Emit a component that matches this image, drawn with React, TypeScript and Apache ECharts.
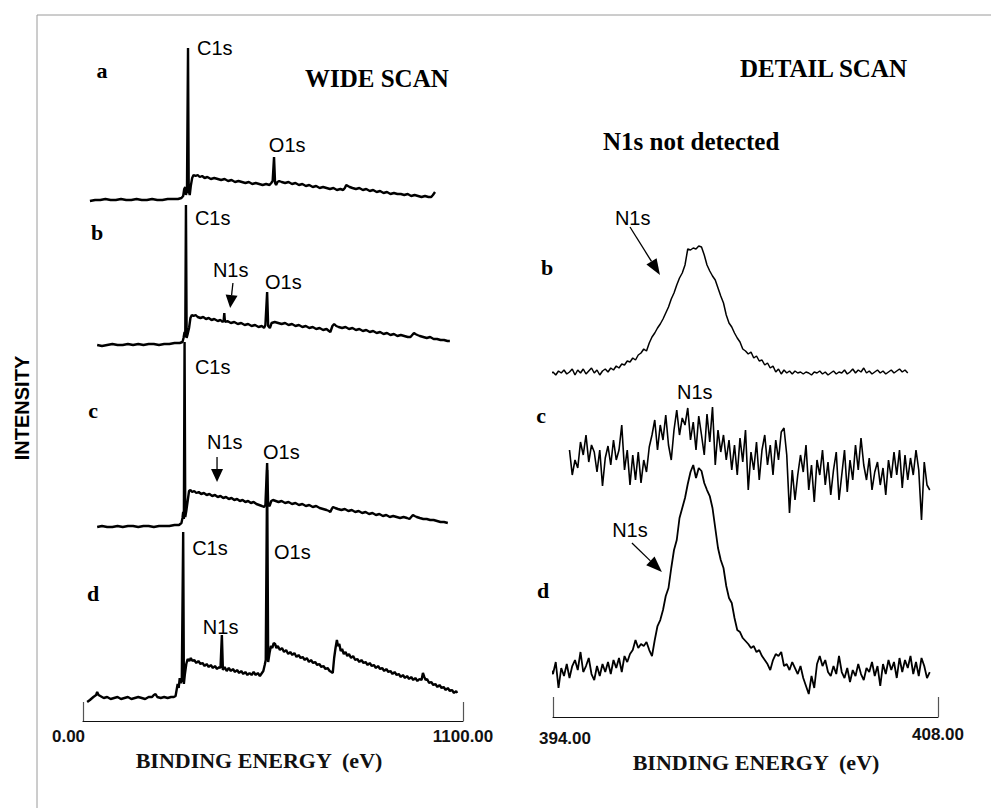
import React, { useEffect, useRef } from "react";
import * as echarts from "echarts";

const SERIF = "'Liberation Serif', 'Times New Roman', Times, serif";
const SANS = "'Liberation Sans', Arial, Helvetica, sans-serif";

// ---------- WIDE SCAN (binding energy eV, intensity above own baseline) ----------
const wideLetters = ["a", "b", "c", "d"];
const wideOffsets = [521, 376, 194, 23];

const wideA: [number, number][] = [
  [20, -1], [35, 0], [50, 0], [65, 1], [80, 0], [95, 0], [110, 1], [125, 0], [140, 0], [155, 1], [170, 0], [185, 0],
  [200, 1], [215, 0], [230, 0], [245, 1], [260, 1], [275, 1], [285, 2], [290, 4], [293, 11], [296, 13], [298, 5],
  [301, 9], [304, 152], [306, 9], [309, 5], [312, 14], [316, 22], [320, 25], [326, 24], [332, 25], [338, 23],
  [345, 24], [352, 22], [360, 23], [370, 21], [380, 22], [390, 21], [400, 20], [410, 21], [420, 19], [430, 20],
  [440, 18], [450, 19], [460, 18], [470, 17], [480, 18], [490, 16], [500, 17], [510, 16], [520, 15], [530, 16],
  [540, 15], [545, 17], [549, 19], [553, 43], [556, 17], [559, 15], [563, 18], [568, 19], [575, 18], [585, 17],
  [595, 18], [605, 16], [615, 17], [625, 15], [635, 16], [645, 14], [655, 15], [665, 13], [675, 14], [685, 12],
  [695, 13], [705, 12], [715, 11], [725, 12], [735, 10], [745, 11], [753, 10], [758, 12], [762, 15], [767, 14],
  [772, 13], [780, 12], [790, 11], [800, 12], [810, 10], [820, 11], [830, 9], [840, 10], [850, 8], [860, 9],
  [870, 7], [880, 8], [890, 6], [900, 7], [910, 6], [920, 6], [930, 5], [940, 6], [950, 4], [960, 5], [970, 4],
  [980, 3], [990, 4], [1000, 3], [1008, 3], [1013, 5], [1019, 8],
];

const wideB: [number, number][] = [
  [41, 0], [55, -1], [70, 0], [85, 1], [100, 0], [115, 0], [130, 1], [145, 0], [160, 1], [175, 0], [190, 1],
  [205, 1], [220, 0], [235, 1], [250, 1], [265, 2], [280, 2], [288, 3], [291, 7], [294, 13], [296, 8], [298, 140],
  [300, 7], [303, 11], [307, 17], [311, 27], [315, 30], [320, 29], [326, 30], [332, 28], [340, 27], [348, 28],
  [356, 26], [364, 27], [372, 25], [380, 26], [390, 24], [398, 25], [404, 23], [407, 24], [409, 32], [411, 23],
  [418, 24], [428, 22], [438, 23], [448, 21], [458, 22], [468, 20], [478, 21], [488, 19], [498, 20], [508, 18],
  [518, 19], [524, 17], [528, 20], [533, 53], [536, 19], [541, 17], [546, 22], [555, 23], [565, 22], [575, 21],
  [585, 22], [595, 20], [605, 21], [615, 19], [625, 20], [635, 18], [645, 19], [655, 17], [665, 18], [675, 16],
  [685, 17], [695, 15], [705, 16], [712, 14], [716, 13], [722, 19], [727, 21], [733, 19], [740, 18], [750, 17],
  [760, 18], [770, 16], [780, 17], [790, 15], [800, 16], [810, 14], [820, 15], [830, 13], [840, 14], [850, 12],
  [860, 13], [870, 11], [880, 12], [890, 10], [900, 11], [910, 9], [920, 10], [930, 9], [940, 8], [948, 8],
  [953, 10], [958, 12], [962, 11], [968, 10], [975, 9], [985, 8], [995, 7], [1005, 8], [1015, 6], [1025, 6],
  [1035, 5], [1045, 5], [1055, 4], [1062, 4],
];

const wideC: [number, number][] = [
  [41, 0], [55, 1], [70, 0], [85, 0], [100, 1], [115, 0], [130, 1], [145, 1], [160, 0], [175, 1], [190, 1],
  [205, 0], [220, 1], [235, 1], [250, 1], [265, 2], [278, 2], [285, 4], [288, 9], [290, 15], [292, 8], [294, 185],
  [296, 10], [299, 16], [303, 26], [307, 36], [311, 37], [316, 35], [322, 36], [328, 34], [335, 35], [342, 33],
  [350, 34], [358, 32], [366, 33], [374, 31], [382, 32], [390, 30], [398, 31], [406, 29], [414, 30], [422, 28],
  [430, 29], [438, 27], [446, 28], [454, 26], [462, 27], [470, 25], [478, 26], [486, 24], [494, 25], [502, 23],
  [510, 22], [518, 21], [524, 20], [528, 22], [533, 64], [536, 22], [540, 21], [545, 26], [550, 27], [558, 26],
  [566, 25], [575, 26], [585, 24], [595, 25], [605, 23], [615, 24], [625, 22], [635, 23], [645, 21], [655, 22],
  [665, 20], [675, 21], [685, 19], [695, 18], [705, 17], [712, 16], [716, 15], [720, 18], [724, 20], [730, 19],
  [738, 18], [748, 17], [758, 18], [768, 16], [778, 17], [788, 15], [798, 16], [808, 14], [818, 15], [828, 13],
  [838, 14], [848, 12], [858, 13], [868, 11], [878, 12], [888, 10], [898, 11], [908, 10], [918, 9], [928, 10],
  [938, 9], [945, 8], [950, 10], [955, 12], [960, 11], [966, 10], [975, 9], [985, 8], [995, 8], [1005, 7],
  [1015, 7], [1025, 6], [1035, 5], [1045, 5], [1056, 4],
];

const wideD: [number, number][] = [
  [12, -4], [20, -2], [30, 1], [38, 3], [41, 6], [45, 3], [50, 2], [60, 0], [70, 1], [80, -1], [90, 0], [100, 1],
  [110, -1], [120, 0], [130, 1], [140, -1], [150, 0], [160, 1], [170, 0], [180, -1], [190, 1], [200, 1], [205, 3],
  [210, 4], [215, 1], [225, 0], [235, 1], [245, 0], [255, 1], [263, 1], [268, 2], [271, 8], [274, 14], [277, 10],
  [280, 20], [283, 15], [286, 18], [290, 166], [292, 14], [295, 24], [299, 34], [303, 39], [308, 37], [312, 40],
  [317, 37], [322, 38], [328, 35], [334, 37], [340, 34], [346, 35], [352, 32], [358, 34], [364, 31], [370, 33],
  [376, 30], [382, 32], [388, 29], [394, 31], [398, 30], [402, 63], [405, 28], [410, 31], [416, 27], [422, 30],
  [428, 27], [434, 29], [440, 26], [446, 28], [452, 25], [458, 27], [464, 24], [470, 26], [476, 23], [482, 25],
  [488, 23], [494, 26], [500, 23], [506, 25], [512, 22], [518, 25], [522, 27], [526, 33], [529, 38], [533, 228],
  [536, 36], [540, 45], [544, 52], [548, 50], [552, 55], [556, 54], [560, 50], [564, 52], [570, 48], [576, 50],
  [582, 46], [588, 48], [594, 44], [600, 46], [606, 43], [612, 45], [618, 41], [624, 43], [630, 40], [636, 41],
  [642, 38], [648, 40], [654, 36], [660, 38], [666, 35], [672, 36], [678, 33], [684, 34], [690, 31], [696, 32],
  [702, 29], [708, 30], [714, 27], [719, 26], [723, 25], [727, 40], [731, 50], [735, 58], [738, 52], [742, 54],
  [746, 47], [750, 49], [755, 44], [760, 46], [765, 42], [770, 44], [776, 40], [782, 42], [788, 38], [794, 39],
  [800, 36], [806, 38], [812, 35], [818, 36], [824, 33], [830, 35], [836, 32], [842, 33], [848, 30], [854, 32],
  [860, 29], [866, 30], [872, 27], [878, 29], [884, 26], [890, 27], [896, 24], [902, 26], [908, 23], [914, 24],
  [920, 21], [926, 23], [932, 20], [938, 22], [944, 19], [950, 21], [956, 18], [962, 20], [968, 17], [974, 19],
  [980, 18], [984, 25], [988, 21], [992, 18], [996, 19], [1002, 15], [1008, 16], [1014, 13], [1020, 14],
  [1026, 11], [1032, 13], [1038, 10], [1044, 11], [1050, 8], [1056, 10], [1062, 7], [1068, 8], [1074, 5],
  [1080, 7], [1083, 5],
];

// ---------- DETAIL SCAN (N1s region, 0.1 eV steps) ----------
const detailLetters = ["b", "c", "d"];
const detailOffsets = [344, 237, 49];
const detailStart = [393.7, 394.6, 393.8];
const detailStep = 0.1;

const detailB = [
  0, 2, -1, 1, -2, 2, 0, 3, -1, 1,
  4, -2, 3, 0, 4, -1, 2, 5, 0, 3,
  -2, 2, 4, 1, 5, 3, 7, 5, 9, 8,
  12, 11, 15, 13, 18, 20, 24, 22, 30, 36,
  40, 45, 49, 54, 60, 66, 74, 80, 88, 95,
  100, 108, 124, 123, 125, 124, 127, 126, 118, 108,
  102, 97, 93, 85, 77, 70, 58, 50, 46, 40,
  35, 31, 24, 22, 19, 21, 15, 17, 12, 13,
  8, 10, 5, 7, 1, 4, -1, 3, 0, 2,
  -1, 2, 0, 1, -1, 1, 0, -2, 1, 0,
  2, -1, 1, -2, 0, 2, -1, 1, 0, 3,
  -1, 1, 4, 0, 3, 1, 5, 0, 2, -1,
  1, 3, 0, 2, -1, 1, 3, 0, 2, 4,
  1, 3, 0,
];

const detailC = [
  30, 5, 20, 12, 38, 25, 45, 18, 35, 28,
  8, 30, -6, 22, 34, 15, 40, 20, 30, 55,
  10, 30, -5, 25, 0, 28, -3, 20, 8, 33,
  45, 60, 30, 55, 40, 65, 35, 20, 50, 70,
  45, 62, 55, 72, 40, 58, 30, 64, 45, 25,
  66, 38, 73, 15, 50, 28, 45, 20, 40, 10,
  35, 5, 42, 18, 50, -10, 28, 10, 38, 0,
  30, 45, 15, 35, 5, 40, 20, 48, 52, 25,
  -33, 10, -20, 5, 25, 8, 35, -10, 15, -22,
  20, 5, 30, -5, 18, -15, 10, 28, -20, 5,
  30, -12, 20, 0, 35, 10, 42, 15, 0, 22,
  -10, 8, 18, -5, 12, -15, 20, 2, 28, 5,
  30, -8, 25, 0, 22, 5, 30, 10, -40, 18,
  -5, -10,
];

const detailD = [
  4, 0, -6, 6, -20, 0, -8, 4, -10, 2,
  8, -2, 16, -4, 2, 10, -6, -12, 2, -8,
  4, -4, 6, -6, 8, 0, 10, -4, 12, 6,
  14, 18, 28, 20, 24, 22, 26, 18, 12, 28,
  42, 48, 58, 72, 80, 100, 118, 128, 150, 160,
  170, 184, 196, 203, 190, 200, 197, 185, 178, 172,
  160, 140, 120, 108, 100, 82, 70, 65, 50, 38,
  36, 30, 27, 24, 20, 22, 16, 18, 12, 8,
  4, -2, 8, 14, 12, 16, 2, 4, -2, 6,
  0, -6, 2, -10, -18, -26, -8, -20, 4, 12,
  2, 8, -4, -8, 2, -6, 12, -4, -10, 0,
  -14, -2, -8, 4, -6, -12, 0, -4, 6, -8,
  2, -18, 4, -6, 8, -2, 6, -10, 10, -4,
  8, 0, 12, -6, 6, -8, 10, 2, -10, -4,
];

// ---------- axis ranges & tick labels ----------
const wideRange = [0, 1100];
const detailRange = [394, 408];
const wideTickLabels = ["0.00", "1100.00"];
const detailTickLabels = ["394.00", "408.00"];
const axisTitle = "BINDING ENERGY  (eV)";

// ---------- peak annotations (data coordinates) ----------
const wideAnnotations: [string, number, number][] = [
  ["C1s", 330, 673], ["O1s", 538, 576],
  ["C1s", 324, 503], ["N1s", 376, 451], ["O1s", 527, 439],
  ["C1s", 324, 354], ["N1s", 359, 279], ["O1s", 521, 269],
  ["C1s", 316, 173], ["O1s", 553, 169], ["N1s", 347, 94],
];
const wideArrows = [[434, 438, 426, 413], [388, 264, 388, 239]];
const detailAnnotations: [string, number, number][] = [
  ["N1s", 396.25, 499], ["N1s", 398.51, 325], ["N1s", 396.15, 187],
];
const detailArrows = [[396.8, 490, 397.89, 442], [396.87, 174, 397.96, 145]];

function arrowEls(p0: number[], p1: number[], headLen: number, headW: number) {
  const dx = p1[0] - p0[0];
  const dy = p1[1] - p0[1];
  const L = Math.hypot(dx, dy) || 1;
  const ux = dx / L, uy = dy / L;
  const bx = p1[0] - ux * headLen, by = p1[1] - uy * headLen;
  const nx = -uy, ny = ux;
  return [
    { type: "line", silent: true, shape: { x1: p0[0], y1: p0[1], x2: bx, y2: by }, style: { stroke: "#000", lineWidth: 1.3 } },
    {
      type: "polygon", silent: true,
      shape: { points: [[p1[0], p1[1]], [bx + (nx * headW) / 2, by + (ny * headW) / 2], [bx - (nx * headW) / 2, by - (ny * headW) / 2]] },
      style: { fill: "#000" },
    },
  ];
}

function txt(text: string, x: number, y: number, size: number, family: string, bold: boolean, align = "left", rotation = 0) {
  return {
    type: "text", x, y, rotation, silent: true,
    style: { text, fontSize: size, fontFamily: family, fontWeight: bold ? "bold" : "normal", fill: "#000", align, verticalAlign: "middle" },
  };
}

export default function App() {
  const ref = useRef<HTMLDivElement>(null);

  useEffect(() => {
    if (!ref.current) return;
    const chart = echarts.init(ref.current, null, { renderer: "svg" });

    const lineSeries = (data: number[][], xi: number, width: number) => ({
      type: "line", xAxisIndex: xi, yAxisIndex: xi, data, showSymbol: false, symbol: "none",
      lineStyle: { color: "#000", width }, clip: false, silent: true, animation: false,
    });

    const wideTraces = [wideA, wideB, wideC, wideD];
    const detailTraces = [detailB, detailC, detailD];
    const detailWidths = [1.5, 1.6, 1.8];

    const series: any[] = [
      ...wideTraces.map((pts, i) => lineSeries(pts.map(([e, v]) => [e, v + wideOffsets[i]]), 0, 2.4)),
      ...detailTraces.map((vals, i) =>
        lineSeries(vals.map((v, k) => [+(detailStart[i] + k * detailStep).toFixed(2), v + detailOffsets[i]]), 1, detailWidths[i])
      ),
    ];

    const labelBase = { fontFamily: SANS, fontWeight: "bold", fontSize: 17, color: "#111" };

    chart.setOption({
      animation: false,
      backgroundColor: "#fff",
      grid: [
        { left: 83, right: 991 - 463, top: 41, bottom: 808 - 721, containLabel: false },
        { left: 553, right: 991 - 938, top: 27, bottom: 808 - 717, containLabel: false },
      ],
      xAxis: [
        {
          type: "value", gridIndex: 0, min: wideRange[0], max: wideRange[1],
          axisLine: { show: true, onZero: false, lineStyle: { color: "#111", width: 1.2 } },
          axisTick: { show: true, inside: true, length: 19, customValues: wideRange, lineStyle: { color: "#555", width: 1.2 } },
          axisLabel: {
            show: true, customValues: wideRange, margin: 7,
            formatter: (v: number) => (v === wideRange[0] ? `{l|${wideTickLabels[0]}}` : `{r|${wideTickLabels[1]}}`),
            rich: { l: { ...labelBase, padding: [0, 29, 0, 0] }, r: { ...labelBase, padding: [0, 0, 0, 0] } },
            ...labelBase,
          },
          splitLine: { show: false },
          name: axisTitle, nameLocation: "middle", nameGap: 16,
          nameTextStyle: { fontFamily: SERIF, fontWeight: "bold", fontSize: 22, color: "#111", padding: [0, 28, 0, 0] },
        },
        {
          type: "value", gridIndex: 1, min: detailRange[0], max: detailRange[1],
          axisLine: { show: true, onZero: false, lineStyle: { color: "#111", width: 1.2 } },
          axisTick: { show: true, inside: true, length: 20, customValues: detailRange, lineStyle: { color: "#555", width: 1.2 } },
          axisLabel: {
            show: true, customValues: detailRange, margin: 9,
            formatter: (v: number) => (v === detailRange[0] ? `{l|${detailTickLabels[0]}}` : `{r|${detailTickLabels[1]}}`),
            rich: { l: { ...labelBase, padding: [4, 0, 0, 24] }, r: { ...labelBase, padding: [0, 0, 0, 0] } },
            ...labelBase,
          },
          splitLine: { show: false },
          name: axisTitle, nameLocation: "middle", nameGap: 15,
          nameTextStyle: { fontFamily: SERIF, fontWeight: "bold", fontSize: 22, color: "#111", padding: [0, 0, 0, 21] },
        },
      ],
      yAxis: [
        { type: "value", gridIndex: 0, min: 0, max: 680, show: false, splitLine: { show: false } },
        { type: "value", gridIndex: 1, min: 0, max: 690, show: false, splitLine: { show: false } },
      ],
      series,
    });

    const px = (gi: number, x: number, y: number) => chart.convertToPixel({ gridIndex: gi } as any, [x, y]) as number[];

    const els: any[] = [
      { type: "line", silent: true, shape: { x1: 37, y1: 15, x2: 991, y2: 15 }, style: { stroke: "#9a9a9a", lineWidth: 1 } },
      { type: "line", silent: true, shape: { x1: 37, y1: 15, x2: 37, y2: 808 }, style: { stroke: "#9a9a9a", lineWidth: 1 } },
      txt("WIDE SCAN", 305, 78, 25, SERIF, true),
      txt("DETAIL SCAN", 740, 68, 25, SERIF, true),
      txt("N1s not detected", 603, 141, 25, SERIF, true),
      txt("INTENSITY", 22, 408, 20, SANS, true, "center", Math.PI / 2),
      txt(wideLetters[0], 102, 70, 22, SERIF, true, "center"),
      txt(wideLetters[1], 97, 232, 22, SERIF, true, "center"),
      txt(wideLetters[2], 93, 410, 22, SERIF, true, "center"),
      txt(wideLetters[3], 93, 593, 22, SERIF, true, "center"),
      txt(detailLetters[0], 547, 267, 22, SERIF, true, "center"),
      txt(detailLetters[1], 541, 415, 22, SERIF, true, "center"),
      txt(detailLetters[2], 543, 590, 22, SERIF, true, "center"),
    ];

    wideAnnotations.forEach(([t, x, y]) => {
      const p = px(0, x, y);
      els.push(txt(t, p[0], p[1], 20, SANS, false));
    });
    detailAnnotations.forEach(([t, x, y]) => {
      const p = px(1, x, y);
      els.push(txt(t, p[0], p[1], 20, SANS, false));
    });
    wideArrows.forEach(([x0, y0, x1, y1]) => {
      els.push(...arrowEls(px(0, x0, y0), px(0, x1, y1), 13, 12));
    });
    detailArrows.forEach(([x0, y0, x1, y1]) => {
      els.push(...arrowEls(px(1, x0, y0), px(1, x1, y1), 16, 12));
    });

    chart.setOption({ graphic: { elements: els } });

    return () => chart.dispose();
  }, []);

  return (
    <div
      ref={ref}
      style={{ position: "fixed", left: 0, top: 0, width: 991, height: 808, background: "#fff" }}
    />
  );
}
